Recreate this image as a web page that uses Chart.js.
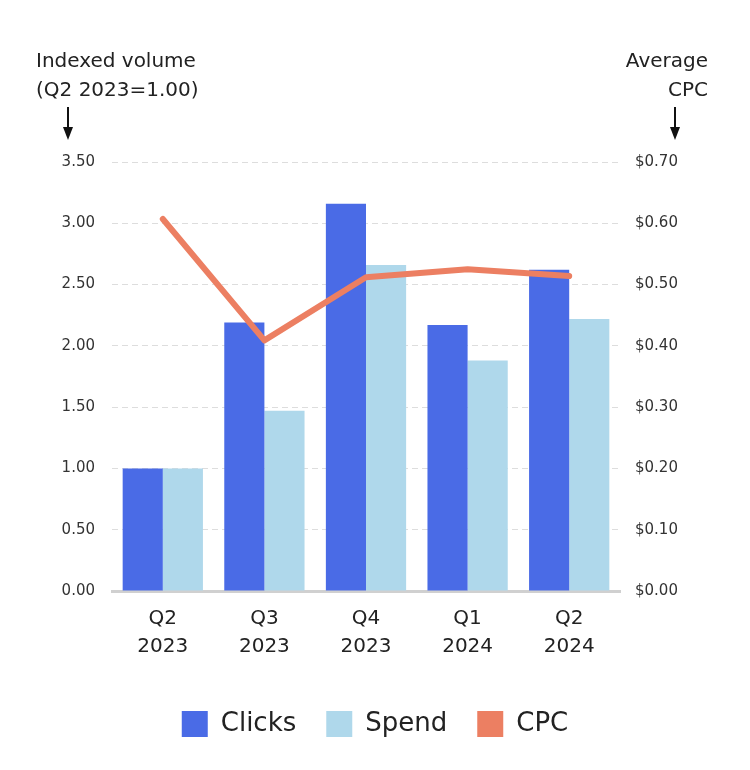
<!DOCTYPE html>
<html>
<head>
<meta charset="utf-8">
<script src="https://cdn.jsdelivr.net/npm/chart.js@4"></script>
<style>
  html, body { margin: 0; padding: 0; background: #fff; }
  #wrap { width: 750px; height: 770px; position: relative; }
</style>
</head>
<body>
<div id="wrap"><canvas id="myChart"></canvas></div>
<script>
// Data
var quarters = [['Q2', '2023'], ['Q3', '2023'], ['Q4', '2023'], ['Q1', '2024'], ['Q2', '2024']];
var clicks = [1.00, 2.19, 3.16, 2.17, 2.62];
var spend = [1.00, 1.47, 2.66, 1.88, 2.22];
var cpc = [0.607, 0.409, 0.512, 0.525, 0.514];

var FONT = '"DejaVu Sans", sans-serif';
var TEXT = '#222';

// Axis titles with arrows above the two y axes
var axisTitles = {
    id: 'axisTitles',
    afterDraw: function(chart) {
        var ctx = chart.ctx;
        ctx.save();
        ctx.fillStyle = TEXT;
        ctx.font = '20px ' + FONT;
        ctx.textBaseline = 'alphabetic';
        ctx.textAlign = 'left';
        ctx.fillText('Indexed volume', 36, 67);
        ctx.fillText('(Q2 2023=1.00)', 36, 96);
        ctx.textAlign = 'right';
        ctx.fillText('Average', 708, 67);
        ctx.fillText('CPC', 708, 96);

        function arrow(x) {
            ctx.strokeStyle = '#111';
            ctx.lineWidth = 2;
            ctx.beginPath();
            ctx.moveTo(x, 107);
            ctx.lineTo(x, 130);
            ctx.stroke();
            ctx.beginPath();
            ctx.moveTo(x - 5, 127);
            ctx.lineTo(x + 5, 127);
            ctx.lineTo(x, 140);
            ctx.closePath();
            ctx.fillStyle = '#111';
            ctx.fill();
        }
        arrow(68);
        arrow(675);
        ctx.restore();
    }
};

var ctx = document.getElementById('myChart').getContext('2d');
var myChart = new Chart(ctx, {
    type: 'bar',
    data: {
        labels: quarters,
        datasets: [{
            label: 'Clicks',
            data: clicks,
            backgroundColor: '#4a6be6',
            yAxisID: 'y',
            order: 2,
            categoryPercentage: 0.79,
            barPercentage: 1.0
        }, {
            label: 'Spend',
            data: spend,
            backgroundColor: '#afd8eb',
            yAxisID: 'y',
            order: 2,
            categoryPercentage: 0.79,
            barPercentage: 1.0
        }, {
            type: 'line',
            label: 'CPC',
            data: cpc,
            borderColor: '#ec7f62',
            backgroundColor: '#ec7f62',
            borderWidth: 6,
            borderCapStyle: 'round',
            borderJoinStyle: 'round',
            pointRadius: 0,
            tension: 0,
            yAxisID: 'y1',
            order: 1
        }]
    },
    options: {
        responsive: true,
        maintainAspectRatio: false,
        animation: false,
        layout: {
            padding: { top: 162, left: 0, right: 0, bottom: 23 }
        },
        plugins: {
            tooltip: { enabled: false },
            legend: {
                position: 'bottom',
                labels: {
                    font: { family: FONT, size: 26 },
                    color: TEXT,
                    boxWidth: 26,
                    boxHeight: 26,
                    padding: 30,
                    generateLabels: function(chart) {
                        return chart.data.datasets.map(function(ds, i) {
                            return {
                                text: ds.label,
                                fillStyle: ds.backgroundColor,
                                strokeStyle: ds.backgroundColor,
                                lineWidth: 0,
                                fontColor: TEXT,
                                datasetIndex: i
                            };
                        });
                    }
                }
            }
        },
        scales: {
            x: {
                afterFit: function(scale) { scale.height += 14; },
                grid: { display: false },
                border: { display: true, color: '#d0d0d0', width: 3 },
                ticks: {
                    color: TEXT,
                    font: { family: FONT, size: 20, lineHeight: 1.4 },
                    padding: 6
                }
            },
            y: {
                position: 'left',
                min: 0,
                max: 3.5,
                afterFit: function(scale) { scale.width = 112; },
                border: { display: false, dash: [6, 4] },
                grid: { color: '#dddddd', lineWidth: 1, drawTicks: false },
                ticks: {
                    stepSize: 0.5,
                    color: '#333',
                    font: { family: FONT, size: 15 },
                    padding: 17,
                    callback: function(v) { return v.toFixed(2); }
                }
            },
            y1: {
                position: 'right',
                min: 0,
                max: 0.7,
                afterFit: function(scale) { scale.width = 130; },
                border: { display: false },
                grid: { display: false },
                ticks: {
                    stepSize: 0.1,
                    color: '#333',
                    font: { family: FONT, size: 15 },
                    padding: 7,
                    callback: function(v) { return '$' + v.toFixed(2); }
                }
            }
        }
    },
    plugins: [axisTitles]
});
</script>
</body>
</html>
